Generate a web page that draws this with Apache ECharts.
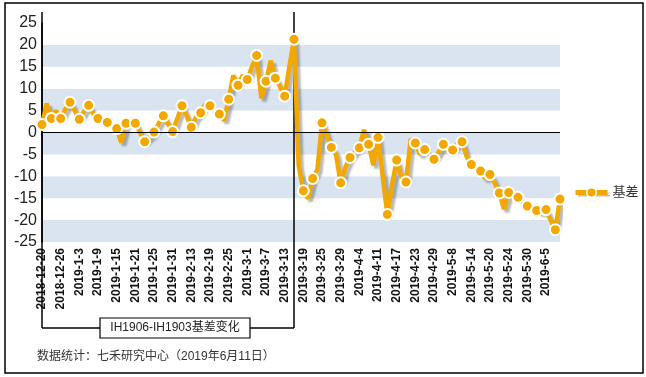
<!doctype html>
<html lang="zh">
<head>
<meta charset="UTF-8">
<title>IH1906-IH1903基差变化</title>
<script src="https://cdn.jsdelivr.net/npm/echarts@6/dist/echarts.min.js"></script>
<style>
html, body { margin: 0; padding: 0; background: #fff; }
#main { width: 646px; height: 377px; }
</style>
</head>
<body>
<div id="main"></div>
<script>
// trading days, 2018-12-20 .. 2019-6-11
var dates = [
	'2018-12-20', '2018-12-21', '2018-12-24', '2018-12-25', '2018-12-26', '2018-12-27', '2018-12-28',
	'2019-1-2', '2019-1-3', '2019-1-4', '2019-1-7', '2019-1-8', '2019-1-9', '2019-1-10', '2019-1-11',
	'2019-1-14', '2019-1-15', '2019-1-16', '2019-1-17', '2019-1-18', '2019-1-21', '2019-1-22', '2019-1-23',
	'2019-1-24', '2019-1-25', '2019-1-28', '2019-1-29', '2019-1-30', '2019-1-31',
	'2019-2-1', '2019-2-11', '2019-2-12', '2019-2-13', '2019-2-14', '2019-2-15', '2019-2-18', '2019-2-19',
	'2019-2-20', '2019-2-21', '2019-2-22', '2019-2-25', '2019-2-26', '2019-2-27', '2019-2-28',
	'2019-3-1', '2019-3-4', '2019-3-5', '2019-3-6', '2019-3-7', '2019-3-8', '2019-3-11', '2019-3-12',
	'2019-3-13', '2019-3-14', '2019-3-15', '2019-3-18', '2019-3-19', '2019-3-20', '2019-3-21', '2019-3-22',
	'2019-3-25', '2019-3-26', '2019-3-27', '2019-3-28', '2019-3-29',
	'2019-4-1', '2019-4-2', '2019-4-3', '2019-4-4', '2019-4-8', '2019-4-9', '2019-4-10', '2019-4-11',
	'2019-4-12', '2019-4-15', '2019-4-16', '2019-4-17', '2019-4-18', '2019-4-19', '2019-4-22', '2019-4-23',
	'2019-4-24', '2019-4-25', '2019-4-26', '2019-4-29', '2019-4-30',
	'2019-5-6', '2019-5-7', '2019-5-8', '2019-5-9', '2019-5-10', '2019-5-13', '2019-5-14', '2019-5-15',
	'2019-5-16', '2019-5-17', '2019-5-20', '2019-5-21', '2019-5-22', '2019-5-23', '2019-5-24', '2019-5-27',
	'2019-5-28', '2019-5-29', '2019-5-30', '2019-5-31',
	'2019-6-3', '2019-6-4', '2019-6-5', '2019-6-6', '2019-6-10', '2019-6-11'
];

// 基差 (IH1906 - IH1903 spread)
var basis = [
	1.8, 6.6, 3.2, 5.0, 3.2, 5.3, 6.9, 5.0, 3.0, 4.8,
	6.2, 4.3, 3.2, 3.0, 2.3, 1.6, 0.9, -2.3, 2.1, 2.6,
	2.1, 0.0, -2.1, -1.0, 0.1, 2.0, 3.8, 2.0, 0.2, 3.2,
	6.1, 3.8, 1.2, 3.5, 4.5, 6.5, 6.1, 5.0, 4.2, 2.8,
	7.6, 13.0, 10.8, 13.0, 12.1, 15.0, 17.6, 7.8, 11.7, 16.4,
	12.4, 10.5, 8.3, 15.0, 21.3, -7.5, -13.3, -15.0, -10.5, -8.5,
	2.2, -0.6, -3.4, -5.0, -11.5, -8.0, -5.7, -4.5, -3.5, 0.6,
	-2.7, -7.5, -1.1, -10.0, -18.7, -12.0, -6.3, -10.0, -11.3, -1.5,
	-2.4, -5.0, -3.9, -5.0, -6.1, -4.5, -2.7, -4.2, -4.0, -2.5,
	-2.1, -5.5, -7.3, -8.0, -8.8, -10.5, -9.6, -11.5, -13.8, -17.5,
	-13.7, -14.3, -14.8, -15.8, -16.8, -17.4, -17.8, -18.2, -17.6, -20.0,
	-22.2, -15.2
];

var seriesName = '基差';
var boxTitle = 'IH1906-IH1903基差变化';
var switchDate = '2019-3-15';
var sourceNote = '数据统计：七禾研究中心（2019年6月11日）';

var font = '"Liberation Sans", Arial, "Noto Sans CJK SC", sans-serif';
var orange = '#f3a800';

var myChart = echarts.init(document.getElementById('main'));

var option = {
	animation: false,
	backgroundColor: '#fff',
	grid: { left: 42, right: 86, top: 23, bottom: 135 },
	legend: {
		data: [seriesName],
		left: 568,
		top: 181,
		itemWidth: 32,
		itemHeight: 12,
		lineStyle: { width: 5, color: orange, shadowColor: 'rgba(0,0,0,0.25)', shadowBlur: 1, shadowOffsetX: 2, shadowOffsetY: 2 },
		itemStyle: { color: orange, borderColor: '#fff', borderWidth: 1.5 },
		textStyle: { fontSize: 13, color: '#333', fontFamily: font }
	},
	xAxis: {
		type: 'category',
		data: dates,
		boundaryGap: false,
		axisLine: { show: false },
		axisTick: { show: false },
		axisLabel: {
			interval: 3,
			rotate: 90,
			margin: 6,
			fontSize: 12,
			fontWeight: 'bold',
			color: '#111',
			fontFamily: font
		}
	},
	yAxis: {
		type: 'value',
		min: -25,
		max: 25,
		interval: 5,
		axisLine: { show: true, lineStyle: { color: '#000', width: 1.5 } },
		axisTick: { show: false },
		splitLine: { show: false },
		splitArea: { show: true, areaStyle: { color: ['#d9e4f0', '#ffffff'] } },
		axisLabel: { fontSize: 16, color: '#222', margin: 5, fontFamily: font }
	},
	series: [{
		name: seriesName,
		type: 'line',
		data: basis,
		symbol: 'circle',
		showAllSymbol: true,
		symbolSize: function (v, p) {
			return (p.dataIndex % 2 === 0 || p.dataIndex === basis.length - 1) ? 11 : 0;
		},
		lineStyle: {
			color: orange, width: 4.5,
			shadowColor: 'rgba(0,0,0,0.28)', shadowBlur: 2, shadowOffsetX: 3, shadowOffsetY: 3
		},
		itemStyle: { color: orange, borderColor: '#fff', borderWidth: 2 },
		markLine: {
			silent: true,
			symbol: 'none',
			label: { show: false },
			lineStyle: { color: '#000', width: 1, type: 'solid', shadowBlur: 0, shadowOffsetX: 0, shadowOffsetY: 0 },
			data: [{ yAxis: 0 }]
		},
		z: 3
	}]
};
myChart.setOption(option);

// bracket + frame annotations
var xs = myChart.convertToPixel({ xAxisIndex: 0 }, switchDate);
var xl = 42, yTop = 12, yBr = 328;
var boxL = 100, boxW = 150, boxT = 318, boxH = 20;
var ink = { stroke: '#000', lineWidth: 1.5 };

myChart.setOption({
	graphic: [
		{ type: 'rect', shape: { x: 5, y: 3, width: 638, height: 370 }, style: { fill: null, stroke: '#000', lineWidth: 1.5 }, silent: true, z: 10 },
		{ type: 'line', shape: { x1: xl, y1: yTop, x2: xl, y2: yBr }, style: ink, silent: true, z: 1 },
		{ type: 'line', shape: { x1: xl, y1: yBr, x2: boxL, y2: yBr }, style: ink, silent: true, z: 1 },
		{ type: 'line', shape: { x1: boxL + boxW, y1: yBr, x2: xs, y2: yBr }, style: ink, silent: true, z: 1 },
		{ type: 'line', shape: { x1: xs, y1: yTop, x2: xs, y2: yBr }, style: ink, silent: true, z: 1 },
		{ type: 'rect', shape: { x: boxL, y: boxT, width: boxW, height: boxH }, style: { fill: '#fff', stroke: '#000', lineWidth: 1.2 }, silent: true, z: 1 },
		{
			type: 'text', x: boxL + boxW / 2, y: boxT + boxH / 2, silent: true, z: 2,
			style: { text: boxTitle, fill: '#222', font: '12px ' + font, textAlign: 'center', textVerticalAlign: 'middle' }
		},
		{
			type: 'text', x: 37, y: 357, silent: true, z: 2,
			style: { text: sourceNote, fill: '#333', font: '12px ' + font, textAlign: 'left', textVerticalAlign: 'middle' }
		}
	]
});

window.onresize = () => myChart.resize();
</script>
</body>
</html>
